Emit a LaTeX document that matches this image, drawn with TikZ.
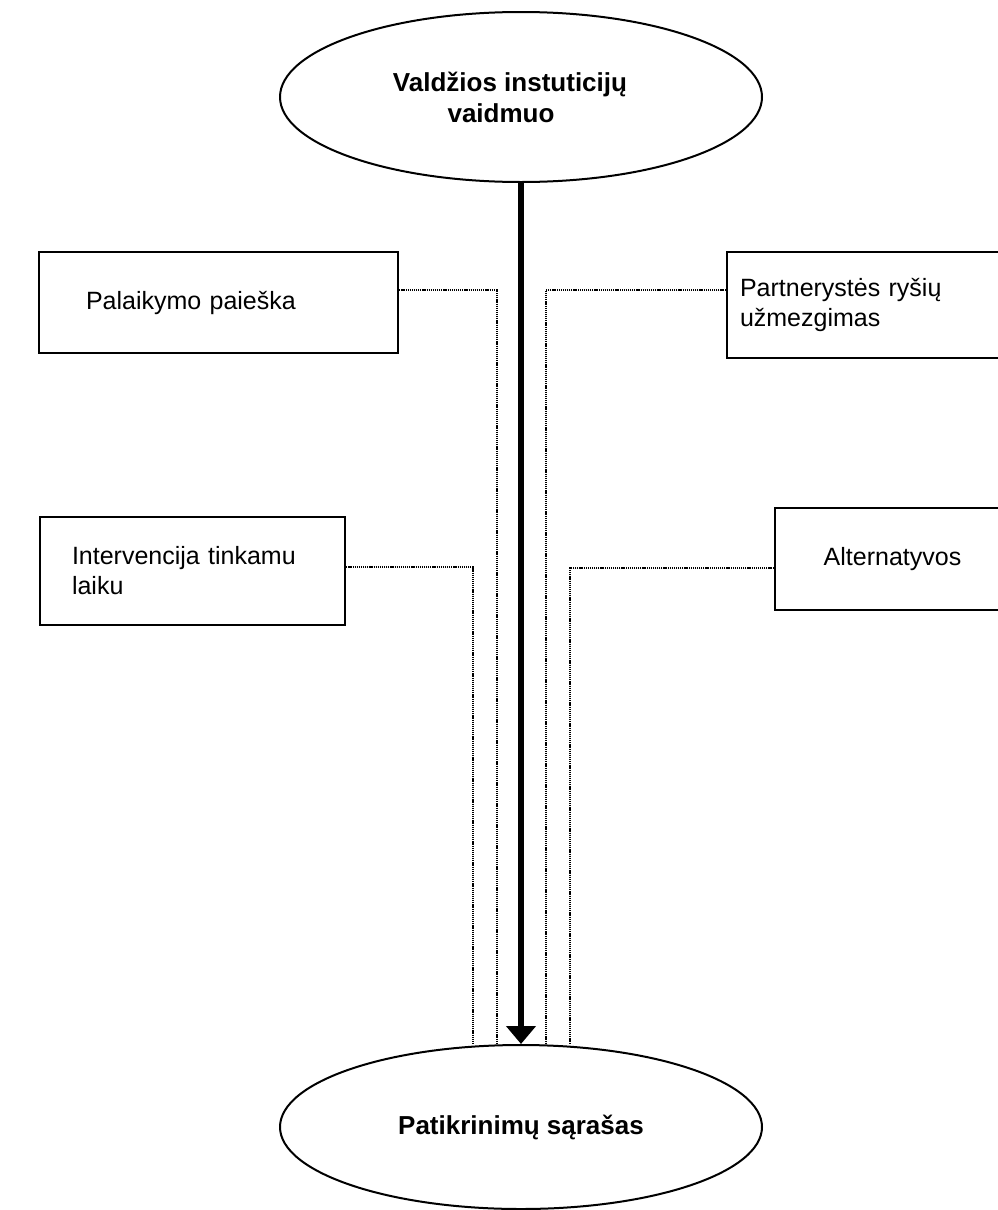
\documentclass[tikz,border=0pt]{standalone}
\usepackage{fontspec}
\setmainfont{Liberation Sans}
\usetikzlibrary{shapes.geometric,arrows.meta}
\begin{document}
\begin{tikzpicture}[x=1pt,y=-1pt,
  oval/.style={draw, ellipse, line width=2pt, inner sep=0pt, minimum width=482pt,
    font=\fontsize{26}{31}\selectfont\bfseries, align=center},
  box/.style={draw, rectangle, line width=2.5pt, inner ysep=0pt,
    font=\fontsize{25}{30}\selectfont},
  conn/.style={line width=1.3pt, dash pattern=on 1.2pt off 0.9pt},
  mainarrow/.style={line width=6pt, -{Triangle[width=29pt,length=18pt]}}]
\path[use as bounding box, clip] (0,0) rectangle (998,1210);
\fill[white] (0,0) rectangle (998,1210);

\node[oval, minimum height=170pt] (top) at (521,97)
  {Valdžios instuticijų\hspace*{22pt}\\vaidmuo\hspace*{40pt}};
\node[oval, minimum height=164pt] (bot) at (521,1127) {Patikrinimų sąrašas};

\node[box, text width=265pt, inner xsep=47pt, minimum height=101pt, align=left]
  (pal) at (218.5,302.5) {Palaikymo paieška};
\node[box, text width=257pt, inner xsep=13pt, minimum height=106pt, align=left]
  (par) at (868.5,305) {Partnerystės ryšių\\užmezgimas};
\node[box, text width=241pt, inner xsep=32pt, minimum height=108pt, align=left]
  (int) at (192.5,571) {Intervencija tinkamu\\laiku};
\node[box, minimum width=235pt, inner xsep=0pt, minimum height=102pt]
  (alt) at (892.5,559) {Alternatyvos};

\coordinate (p1) at (497,290);
\coordinate (p2) at (546,290);
\coordinate (p3) at (473,567);
\coordinate (p4) at (570,568);

\draw[conn] (pal.east |- p1) -- (p1) -- (p1 |- bot.north);
\draw[conn] (par.west |- p2) -- (p2) -- (p2 |- bot.north);
\draw[conn] (int.east |- p3) -- (p3) -- (p3 |- bot.north);
\draw[conn] (alt.west |- p4) -- (p4) -- (p4 |- bot.north);

\draw[mainarrow] (top.south) -- (bot.north);
\end{tikzpicture}
\end{document}
